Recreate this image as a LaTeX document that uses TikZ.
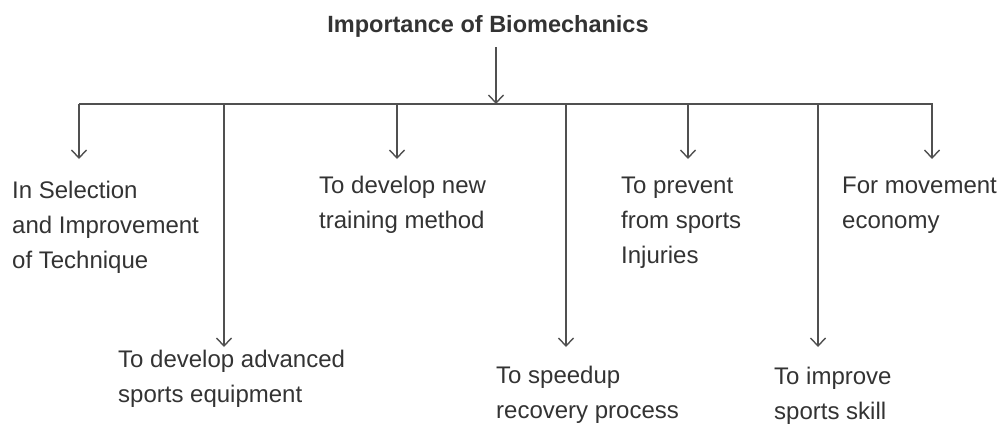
\documentclass[tikz,border=0pt]{standalone}
\usepackage{fontspec}
\setmainfont{Liberation Sans}
\usetikzlibrary{arrows.meta}
\definecolor{txt}{HTML}{333333}
\definecolor{ln}{HTML}{505050}
\newcommand{\mlines}[1]{\begin{tabular}[t]{@{}l@{}}#1\end{tabular}}
\tikzset{
  lbl/.style={anchor=base west, inner sep=0pt, text=txt,
    font=\fontsize{24}{35}\selectfont},
  ttl/.style={anchor=base, inner sep=0pt, text=txt,
    font=\fontsize{23.5}{28}\selectfont\bfseries},
  conn/.style={draw=ln, line width=1.4pt},
  arr/.style={conn, -{Straight Barb[length=8pt,width=15pt,line width=1.4pt]}}
}
\begin{document}
\begin{tikzpicture}[x=1pt,y=-1pt]
\useasboundingbox (0,0) rectangle (1001,424);
% title
\node[ttl] (title) at (488,32) {Importance of Biomechanics};
\coordinate (hub) at (496,104);
\coordinate (bl) at (79,104);
\coordinate (br) at (933,104);
\draw[arr] (496,47) -- (hub);
\draw[conn] (bl) -- (br);
% branch tops and arrow tips
\coordinate (b1) at (79,104);  \coordinate (t1) at (79,159);
\coordinate (b2) at (224,104); \coordinate (t2) at (224,347);
\coordinate (b3) at (397,104); \coordinate (t3) at (397,159);
\coordinate (b4) at (566,104); \coordinate (t4) at (566,347);
\coordinate (b5) at (688,104); \coordinate (t5) at (688,159);
\coordinate (b6) at (818,104); \coordinate (t6) at (818,347);
\coordinate (b7) at (932,104); \coordinate (t7) at (932,159);
\foreach \i in {1,...,7} {\draw[arr] (b\i) -- (t\i);}
% labels
\node[lbl] (n1) at (12,198) {\mlines{In Selection\\and Improvement\\of Technique}};
\node[lbl] (n2) at (118,367) {\mlines{To develop advanced\\sports equipment}};
\node[lbl] (n3) at (319,193) {\mlines{To develop new\\training method}};
\node[lbl] (n4) at (496,383) {\mlines{To speedup\\recovery process}};
\node[lbl] (n5) at (621,193) {\mlines{To prevent\\from sports\\Injuries}};
\node[lbl] (n6) at (774,384) {\mlines{To improve\\sports skill}};
\node[lbl] (n7) at (842,193) {\mlines{For movement\\economy}};
\end{tikzpicture}
\end{document}
